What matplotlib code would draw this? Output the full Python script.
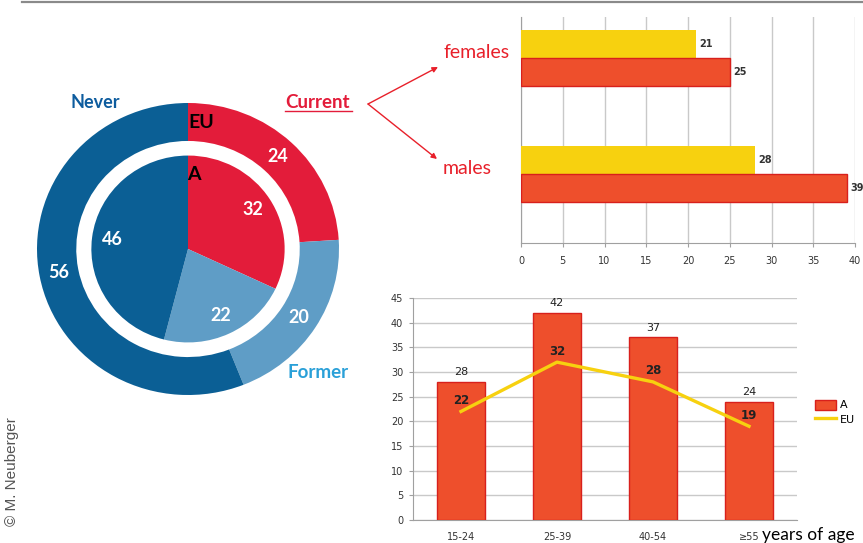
import matplotlib
matplotlib.use("Agg")
import matplotlib.pyplot as plt
from matplotlib.lines import Line2D
from matplotlib.patches import FancyArrowPatch, Patch

W, H = 863, 543

# ---------------- data ----------------
status = ["Current", "Former", "Never"]
eu_status = [24, 20, 56]
a_status = [32, 22, 46]

sex_groups = ["males", "females"]
sex_eu = [28, 21]
sex_a = [39, 25]
hbar_ticks = [0, 5, 10, 15, 20, 25, 30, 35, 40]

ages = ["15-24", "25-39", "40-54", "≥55"]
age_a = [28, 42, 37, 24]
age_eu = [22, 32, 28, 19]
vbar_ticks = [0, 5, 10, 15, 20, 25, 30, 35, 40, 45]

# ---------------- style ----------------
RED = "#e31c3a"
DBLUE = "#0b5f95"
LBLUE = "#5f9dc6"
FORMER_TXT = "#2aa0d8"
NEVER_TXT = "#0d5c9e"
BAR_RED = "#ee4f2c"
BAR_EDGE = "#d8201c"
YELLOW = "#f7d10f"
LABEL_RED = "#e8202a"
GRID = "#c9c9c9"
TICKFONT = "Liberation Sans Narrow"

fig = plt.figure(figsize=(W / 100, H / 100), dpi=100)
fig.patch.set_facecolor("white")


def px_axes(x0, y0, x1, y1):
    return fig.add_axes([x0 / W, 1 - y1 / H, (x1 - x0) / W, (y1 - y0) / H])


def ftext(x, y, s, **kw):
    return fig.text(x / W, 1 - y / H, s, **kw)


# top rule
fig.add_artist(Line2D([22 / W, 1], [1 - 1.5 / H, 1 - 1.5 / H],
                      transform=fig.transFigure, color="#8a8a8a", lw=1.6))

# ---------------- donut ----------------
cx, cy, rx, ry = 188, 249, 151, 146
m = 1.1
axp = px_axes(cx - rx * m, cy - ry * m, cx + rx * m, cy + ry * m)
num_props = dict(color="white", fontsize=13, fontweight="bold", family="Lato")
axp.pie(eu_status, radius=1.0, colors=[RED, LBLUE, DBLUE], startangle=90,
        counterclock=False, wedgeprops=dict(width=0.26, edgecolor="none"),
        autopct=lambda p: f"{p:.0f}", pctdistance=0.87, textprops=num_props)
axp.pie(a_status, radius=0.64, colors=[RED, LBLUE, DBLUE], startangle=90,
        counterclock=False, wedgeprops=dict(edgecolor="none"),
        autopct=lambda p: f"{p:.0f}", pctdistance=0.79, textprops=num_props)
axp.set_aspect("auto")
axp.set_xlim(-m, m)
axp.set_ylim(-m, m)
axp.axis("off")

ftext(95, 103, "Never", color=NEVER_TXT, fontsize=13, fontweight="bold",
      family="Lato", ha="center", va="center")
ftext(318, 103, "Current", color=RED, fontsize=13.5, fontweight="bold",
      family="Lato", ha="center", va="center")
fig.add_artist(Line2D([285 / W, 352 / W], [1 - 111 / H, 1 - 111 / H],
                      transform=fig.transFigure, color=RED, lw=1.0))
ftext(318, 373, "Former", color=FORMER_TXT, fontsize=13.5, fontweight="bold",
      family="Lato", ha="center", va="center")
ftext(201, 122, "EU", color="black", fontsize=14, fontweight="bold",
      family="Lato", ha="center", va="center")
ftext(194, 174, "A", color="black", fontsize=14, fontweight="bold",
      family="Lato", ha="center", va="center")

# arrows
for end in [(438, 67), (437, 159)]:
    fig.add_artist(FancyArrowPatch((368 / W, 1 - 104 / H), (end[0] / W, 1 - end[1] / H),
                                   transform=fig.transFigure, arrowstyle="-|>",
                                   mutation_scale=8, color=LABEL_RED, lw=1.0,
                                   shrinkA=0, shrinkB=0))

ftext(443, 53, "females", color=LABEL_RED, fontsize=14, family="Lato",
      ha="left", va="center")
ftext(443, 168, "males", color=LABEL_RED, fontsize=14, family="Lato",
      ha="left", va="center")

# ---------------- horizontal bars ----------------
axh = px_axes(521, 17, 855, 243)
ypos = list(range(len(sex_groups)))
bh = 0.245
axh.barh([y + bh / 2 for y in ypos], sex_eu, height=bh, color=YELLOW,
         edgecolor="none", zorder=3)
axh.barh([y - bh / 2 for y in ypos], sex_a, height=bh, color=BAR_RED,
         edgecolor=BAR_EDGE, lw=1.0, zorder=3)
for y, v in zip(ypos, sex_eu):
    axh.text(v + 0.4, y + bh / 2, str(v), va="center", ha="left",
             fontsize=7, color="#333333", family=TICKFONT, fontweight="bold")
for y, v in zip(ypos, sex_a):
    axh.text(v + 0.4, y - bh / 2, str(v), va="center", ha="left",
             fontsize=7, color="#333333", family=TICKFONT, fontweight="bold")
axh.set_xlim(0, 40)
axh.set_ylim(-0.595, 1.353)
axh.set_xticks(hbar_ticks)
axh.set_xticklabels([str(t) for t in hbar_ticks], fontsize=7, color="#333333",
                    family=TICKFONT)
axh.set_yticks([])
axh.grid(axis="x", color=GRID, lw=1.0, zorder=0)
for s in ["top", "right"]:
    axh.spines[s].set_visible(False)
for s in ["left", "bottom"]:
    axh.spines[s].set_color("#a0a0a0")
axh.tick_params(axis="x", length=3, color="#a0a0a0", pad=6)

# ---------------- vertical bars + line ----------------
axv = px_axes(413, 298, 797, 520)
xpos = list(range(len(ages)))
axv.bar(xpos, age_a, width=0.49, color=BAR_RED, edgecolor=BAR_EDGE, lw=1.0,
        zorder=3, label="A")
axv.plot(xpos, age_eu, color=YELLOW, lw=2.4, zorder=4, label="EU")
for x, v in zip(xpos, age_a):
    axv.text(x, v + 1.0, str(v), ha="center", va="bottom", fontsize=8,
             color="#222222", family=TICKFONT)
for x, v in zip(xpos, age_eu):
    axv.text(x, v + 0.9, str(v), ha="center", va="bottom", fontsize=8.5,
             color="#222222", family=TICKFONT, fontweight="bold", zorder=5)
axv.set_xlim(-0.5, 3.5)
axv.set_ylim(0, 45)
axv.set_yticks(vbar_ticks)
axv.set_yticklabels([str(t) for t in vbar_ticks], fontsize=7, color="#333333",
                    family=TICKFONT)
axv.set_xticks(xpos)
axv.set_xticklabels(ages, fontsize=7, color="#333333", family=TICKFONT)
axv.grid(axis="y", color=GRID, lw=1.0, zorder=0)
for s in ["top", "right"]:
    axv.spines[s].set_visible(False)
for s in ["left", "bottom"]:
    axv.spines[s].set_color("#a0a0a0")
axv.tick_params(axis="y", length=3, color="#a0a0a0", pad=4)
axv.tick_params(axis="x", length=0, pad=9)

handles = [Patch(facecolor=BAR_RED, edgecolor=BAR_EDGE), Line2D([], [], color=YELLOW, lw=2.4)]
fig.legend(handles, ["A", "EU"], loc="upper left",
           bbox_to_anchor=(808 / W, 1 - 393 / H), frameon=False,
           prop=dict(family=TICKFONT, size=8),
           handlelength=1.9, handleheight=1.0, handletextpad=0.4, labelspacing=0.3,
           borderaxespad=0.2)

ftext(762, 535, "years of age", fontsize=12.5, family="Lato", color="black",
      ha="left", va="center")

ftext(12, 472, "© M. Neuberger", rotation=90, ha="center", va="center",
      fontsize=11, color="#555555", family="Liberation Sans")

fig.savefig("out.png", dpi=100, facecolor="white")
